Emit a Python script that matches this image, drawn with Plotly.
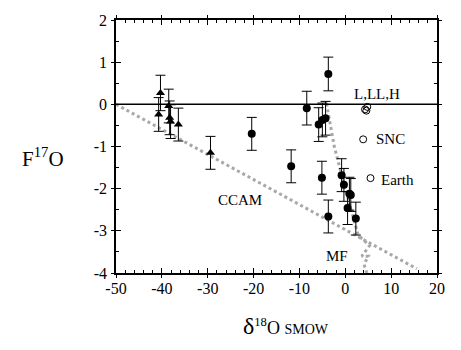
import plotly.graph_objects as go

# --- data ---
tri_x = [-40.3, -40.7, -38.5, -38.3, -38.1, -36.4, -29.4]
tri_y = [0.27, -0.24, -0.04, -0.32, -0.41, -0.48, -1.15]
tri_err = [0.42, 0.40, 0.40, 0.40, 0.40, 0.39, 0.39]

dot_x = [-20.4, -11.8, -8.4, -3.7, -5.8, -5.0, -4.3, -5.1, -3.7, -0.8, -0.3, 0.9, 1.2, 0.5, 2.3]
dot_y = [-0.70, -1.47, -0.09, 0.72, -0.48, -0.37, -0.33, -1.74, -2.66, -1.68, -1.91, -2.12, -2.15, -2.46, -2.71]
dot_err = [0.39, 0.39, 0.40, 0.40, 0.40, 0.40, 0.40, 0.39, 0.39, 0.39, 0.39, 0.39, 0.39, 0.39, 0.39]

open_x = [4.3, 4.6, 4.8, 3.9, 5.5]
open_y = [-0.12, -0.15, -0.06, -0.83, -1.75]

ccam_x = [-50, 15.6]
ccam_y = [0.0, -3.9]

mf_x = [-4.1, -2.4, 0.0, 1.8, 2.8, 5.3, 3.6, 5.0, 4.1, 4.7]
mf_y = [0.02, -1.0, -2.0, -2.7, -3.1, -3.35, -3.6, -3.6, -3.8, -4.0]

ref_x = [-50, 20]
ref_y = [0, 0]

labels = ["L,LL,H", "SNC", "Earth", "CCAM", "MF"]
label_x = [7.0, 9.9, 11.4, -23.0, -1.9]
label_y = [0.24, -0.83, -1.80, -2.27, -3.59]

x_ticks = [-50, -40, -30, -20, -10, 0, 10, 20]
x_tick_labels = ["-50", "-40", "-30", "-20", "-10", "0", "10", "20"]
y_ticks = [-4, -3, -2, -1, 0, 1, 2]
y_tick_labels = ["-4", "-3", "-2", "-1", "0", "1", "2"]

FONT = "Liberation Serif, Times New Roman, serif"

fig = go.Figure()

fig.add_trace(go.Scatter(x=ccam_x, y=ccam_y, mode="lines",
                         line=dict(color="#a8a8a8", width=3, dash="dot"),
                         showlegend=False, hoverinfo="skip"))
fig.add_trace(go.Scatter(x=mf_x, y=mf_y, mode="lines",
                         line=dict(color="#a8a8a8", width=3, dash="dot"),
                         showlegend=False, hoverinfo="skip"))
fig.add_trace(go.Scatter(x=ref_x, y=ref_y, mode="lines",
                         line=dict(color="black", width=1.5),
                         showlegend=False, hoverinfo="skip"))

fig.add_trace(go.Scatter(
    x=tri_x, y=tri_y, mode="markers",
    marker=dict(symbol="triangle-up", size=8, color="black"),
    error_y=dict(type="data", array=tri_err, color="black", thickness=1, width=5),
    showlegend=False))
fig.add_trace(go.Scatter(
    x=dot_x, y=dot_y, mode="markers",
    marker=dict(symbol="circle", size=8, color="black"),
    error_y=dict(type="data", array=dot_err, color="black", thickness=1, width=5),
    showlegend=False))
fig.add_trace(go.Scatter(
    x=open_x, y=open_y, mode="markers",
    marker=dict(symbol="circle-open", size=7, color="black", line=dict(width=1)),
    showlegend=False))

for t, lx, ly in zip(labels, label_x, label_y):
    fig.add_annotation(x=lx, y=ly, text=t, showarrow=False,
                       font=dict(family=FONT, size=15, color="black"))

axis_common = dict(showgrid=False, zeroline=False, showline=True,
                   linecolor="black", linewidth=1.5, mirror="allticks")

fig.update_layout(
    width=461, height=350,
    margin=dict(l=116, r=24, t=16, b=77),
    paper_bgcolor="white", plot_bgcolor="white",
    font=dict(family=FONT, size=16, color="black"),
    xaxis=dict(range=[-50, 20], tickvals=x_ticks, ticktext=x_tick_labels,
               ticks="inside", ticklen=5, tickcolor="black", tickwidth=1.3,
               minor=dict(dtick=2, ticks="inside", ticklen=3, tickcolor="black"),
               tickfont=dict(family=FONT, size=16), **axis_common),
    yaxis=dict(range=[-4, 2], tickvals=y_ticks, ticktext=y_tick_labels,
               ticks="inside", ticklen=5, tickcolor="black", tickwidth=1.3,
               ticklabelstandoff=4,
               minor=dict(dtick=0.5, ticks="inside", ticklen=3, tickcolor="black"),
               tickfont=dict(family=FONT, size=16), **axis_common),
    xaxis2=dict(range=[-50, 20], overlaying="x", tickvals=x_ticks, ticks="outside",
                ticklen=4, tickcolor="black", tickwidth=1.3, showticklabels=False,
                showgrid=False, zeroline=False, showline=False, mirror="allticks"),
    yaxis2=dict(range=[-4, 2], overlaying="y", tickvals=y_ticks, ticks="outside",
                ticklen=4, tickcolor="black", tickwidth=1.3, showticklabels=False,
                showgrid=False, zeroline=False, showline=False, mirror="allticks"),
)

# empty trace to activate the overlay axes (crossing tick marks)
fig.add_trace(go.Scatter(x=[None], y=[None], xaxis="x2", yaxis="y2",
                         showlegend=False, hoverinfo="skip"))

fig.add_annotation(xref="paper", yref="paper", x=0.53, y=-0.21,
                   xanchor="center", yanchor="middle", showarrow=False,
                   text="<span style='font-size:24px'>δ</span><sup>18</sup>O <span style='font-size:14px'>SMOW</span>",
                   font=dict(family=FONT, size=18, color="black"))
fig.add_annotation(xref="paper", yref="paper", x=-0.227, y=0.458,
                   xanchor="center", yanchor="middle", showarrow=False,
                   text="F<sup>17</sup>O",
                   font=dict(family=FONT, size=21, color="black"))

fig.write_html("out.html", config={"displayModeBar": False},
               post_script="document.body.style.margin='0';")
